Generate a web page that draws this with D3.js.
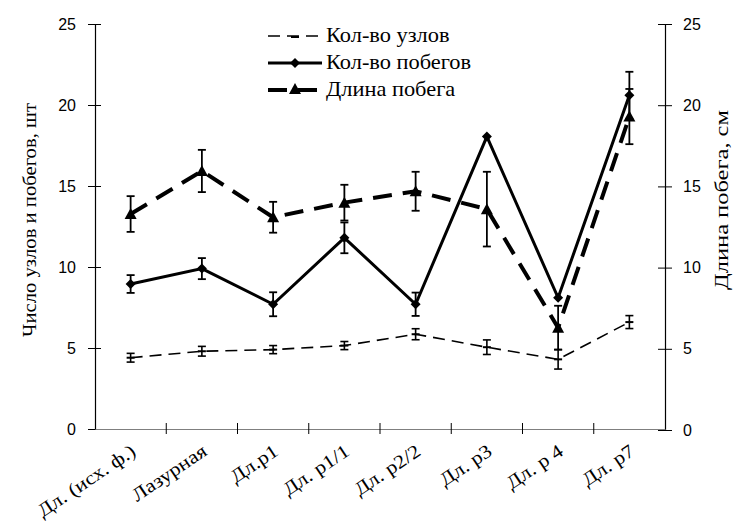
<!DOCTYPE html>
<html><head><meta charset="utf-8">
<script src="https://cdn.jsdelivr.net/npm/d3@7"></script>
<style>body{margin:0;background:#fff}svg{display:block}</style>
</head><body><svg id="c" width="736" height="524"></svg>
<script>
const categories = ["Дл. (исх. ф.)","Лазурная","Дл.р1","Дл. р1/1","Дл. р2/2","Дл. р3","Дл. р 4","Дл. р7"];
const nodes      = [4.4, 4.8, 4.9, 5.15, 5.85, 5.05, 4.3, 6.6];
const nodesErr   = [0.27, 0.3, 0.25, 0.25, 0.34, 0.45, 0.6, 0.4];
const shoots     = [8.95, 9.9, 7.7, 11.8, 7.7, 18.05, 8.1, 20.6];
const shootsErr  = [0.55, 0.65, 0.74, 0.95, 0.72, 0, 0, 1.45];
const lengthCm   = [13.3, 15.95, 13.1, 14.0, 14.7, 13.6, 6.3, 19.3];
const lengthErr  = [1.1, 1.3, 0.95, 1.1, 1.2, 2.3, 1.35, 1.7];
const yTicks = [0,5,10,15,20,25];
const legendNames = ["Кол-во узлов","Кол-во побегов","Длина побега"];

const svg = d3.select("#c");
const L=95, R=665, T=24, B=429;
const x = d3.scaleBand().domain(categories).range([L,R]);
const yL = d3.scaleLinear().domain([0,25]).range([B,T]);
const yR = d3.scaleLinear().domain([0,25]).range([B+1,T]);
const cx = d => x(d)+x.bandwidth()/2;
const serif = "Liberation Serif, Times New Roman";

// axes
const gl = svg.append("g").attr("transform",`translate(${L},0)`)
  .call(d3.axisLeft(yL).tickValues(yTicks).tickSize(0).tickPadding(19));
gl.select(".domain").attr("stroke","#000").attr("stroke-width",1.2);
gl.selectAll(".tick").append("line").attr("x1",-7).attr("x2",6).attr("stroke","#000");
gl.selectAll("text").attr("font-family","Liberation Sans, Arial").attr("font-size",16).attr("fill","#000");

const gr = svg.append("g").attr("transform",`translate(${R},0)`)
  .call(d3.axisRight(yR).tickValues(yTicks).tickSize(0).tickPadding(18));
gr.select(".domain").attr("stroke","#000").attr("stroke-width",1.2);
gr.selectAll(".tick").append("line").attr("x1",-7).attr("x2",7).attr("stroke","#000");
gr.selectAll("text").attr("font-family","Liberation Sans, Arial").attr("font-size",16).attr("fill","#000");

const gx = svg.append("g").attr("transform",`translate(0,${B})`)
  .call(d3.axisBottom(x).tickSize(0).tickFormat(""));
gx.select(".domain").attr("stroke","#7f7f7f").attr("stroke-width",1.2);
const tickPos = categories.map(c=>x(c)).slice(1);
gx.selectAll("line.tk").data(tickPos).enter().append("line")
  .attr("x1",d=>d).attr("x2",d=>d).attr("y1",-6).attr("y2",5).attr("stroke","#000");

svg.append("g").selectAll("text").data(categories).enter().append("text")
  .attr("transform",d=>`translate(${cx(d)-1},${B+14}) rotate(-34) scale(1.15,1)`)
  .attr("text-anchor","end").attr("dominant-baseline","hanging")
  .attr("font-family",serif).attr("font-size",19).text(d=>d);

svg.append("text").attr("transform","translate(36,220) rotate(-90)").attr("text-anchor","middle")
  .attr("font-family",serif).attr("font-size",19)
  .attr("textLength",234).attr("lengthAdjust","spacingAndGlyphs").text("Число узлов и побегов, шт");
svg.append("text").attr("transform","translate(728,200) rotate(-90)").attr("text-anchor","middle")
  .attr("font-family",serif).attr("font-size",19)
  .attr("textLength",180).attr("lengthAdjust","spacingAndGlyphs").text("Длина побега, см");

function errBars(vals, errs, y, cap, w){
  const g = svg.append("g").attr("stroke","#000").attr("stroke-width",w);
  categories.forEach((c,i)=>{
    if(!errs[i]) return;
    const X=cx(c), y1=y(vals[i]+errs[i]), y2=y(vals[i]-errs[i]);
    g.append("line").attr("x1",X).attr("x2",X).attr("y1",y1).attr("y2",y2);
    g.append("line").attr("x1",X-cap).attr("x2",X+cap).attr("y1",y1).attr("y2",y1);
    g.append("line").attr("x1",X-cap).attr("x2",X+cap).attr("y1",y2).attr("y2",y2);
  });
}
errBars(nodes,nodesErr,yL,4,1.6);
errBars(shoots,shootsErr,yL,4,1.8);
errBars(lengthCm,lengthErr,yR,4,1.8);

const line = y => d3.line().x((d,i)=>cx(categories[i])).y(d=>y(d));
svg.append("path").datum(nodes).attr("d",line(yL)).attr("fill","none").attr("stroke","#000")
  .attr("stroke-width",1.6).attr("stroke-dasharray","12,7");
svg.append("path").datum(lengthCm).attr("d",line(yR)).attr("fill","none").attr("stroke","#000")
  .attr("stroke-width",4).attr("stroke-dasharray","19,11");
svg.append("path").datum(shoots).attr("d",line(yL)).attr("fill","none").attr("stroke","#000")
  .attr("stroke-width",3);

// markers
svg.append("g").selectAll("path").data(shoots).enter().append("path")
  .attr("transform",(d,i)=>`translate(${cx(categories[i])},${yL(d)})`)
  .attr("d","M0,-5L5,0L0,5L-5,0Z").attr("fill","#000");
svg.append("g").selectAll("path").data(lengthCm).enter().append("path")
  .attr("transform",(d,i)=>`translate(${cx(categories[i])},${yR(d)})`)
  .attr("d","M0,-6L6,5L-6,5Z").attr("fill","#000");
svg.append("g").selectAll("line").data(nodes).enter().append("line")
  .attr("x1",(d,i)=>cx(categories[i])-4).attr("x2",(d,i)=>cx(categories[i])+4)
  .attr("y1",d=>yL(d)).attr("y2",d=>yL(d)).attr("stroke","#000").attr("stroke-width",2);

// legend
const lg = svg.append("g");
const rows=[36,63,90];
lg.append("line").attr("x1",268).attr("x2",322).attr("y1",rows[0]).attr("y2",rows[0])
  .attr("stroke","#000").attr("stroke-width",1.6).attr("stroke-dasharray","12,7");
lg.append("line").attr("x1",291).attr("x2",299).attr("y1",rows[0]+1).attr("y2",rows[0]+1).attr("stroke","#000").attr("stroke-width",2);
lg.append("line").attr("x1",268).attr("x2",322).attr("y1",rows[1]).attr("y2",rows[1])
  .attr("stroke","#000").attr("stroke-width",3);
lg.append("path").attr("transform",`translate(295,${rows[1]})`).attr("d","M0,-5L5,0L0,5L-5,0Z");
lg.append("line").attr("x1",268).attr("x2",322).attr("y1",rows[2]).attr("y2",rows[2])
  .attr("stroke","#000").attr("stroke-width",4).attr("stroke-dasharray","19,11");
lg.append("path").attr("transform",`translate(295,${rows[2]-1})`).attr("d","M0,-6L6,5L-6,5Z");
lg.selectAll("text").data(legendNames).enter().append("text")
  .attr("transform",(d,i)=>`translate(326,${rows[i]+6}) scale(1.12,1)`)
  .attr("font-family",serif).attr("font-size",20).text(d=>d);
</script></body></html>
